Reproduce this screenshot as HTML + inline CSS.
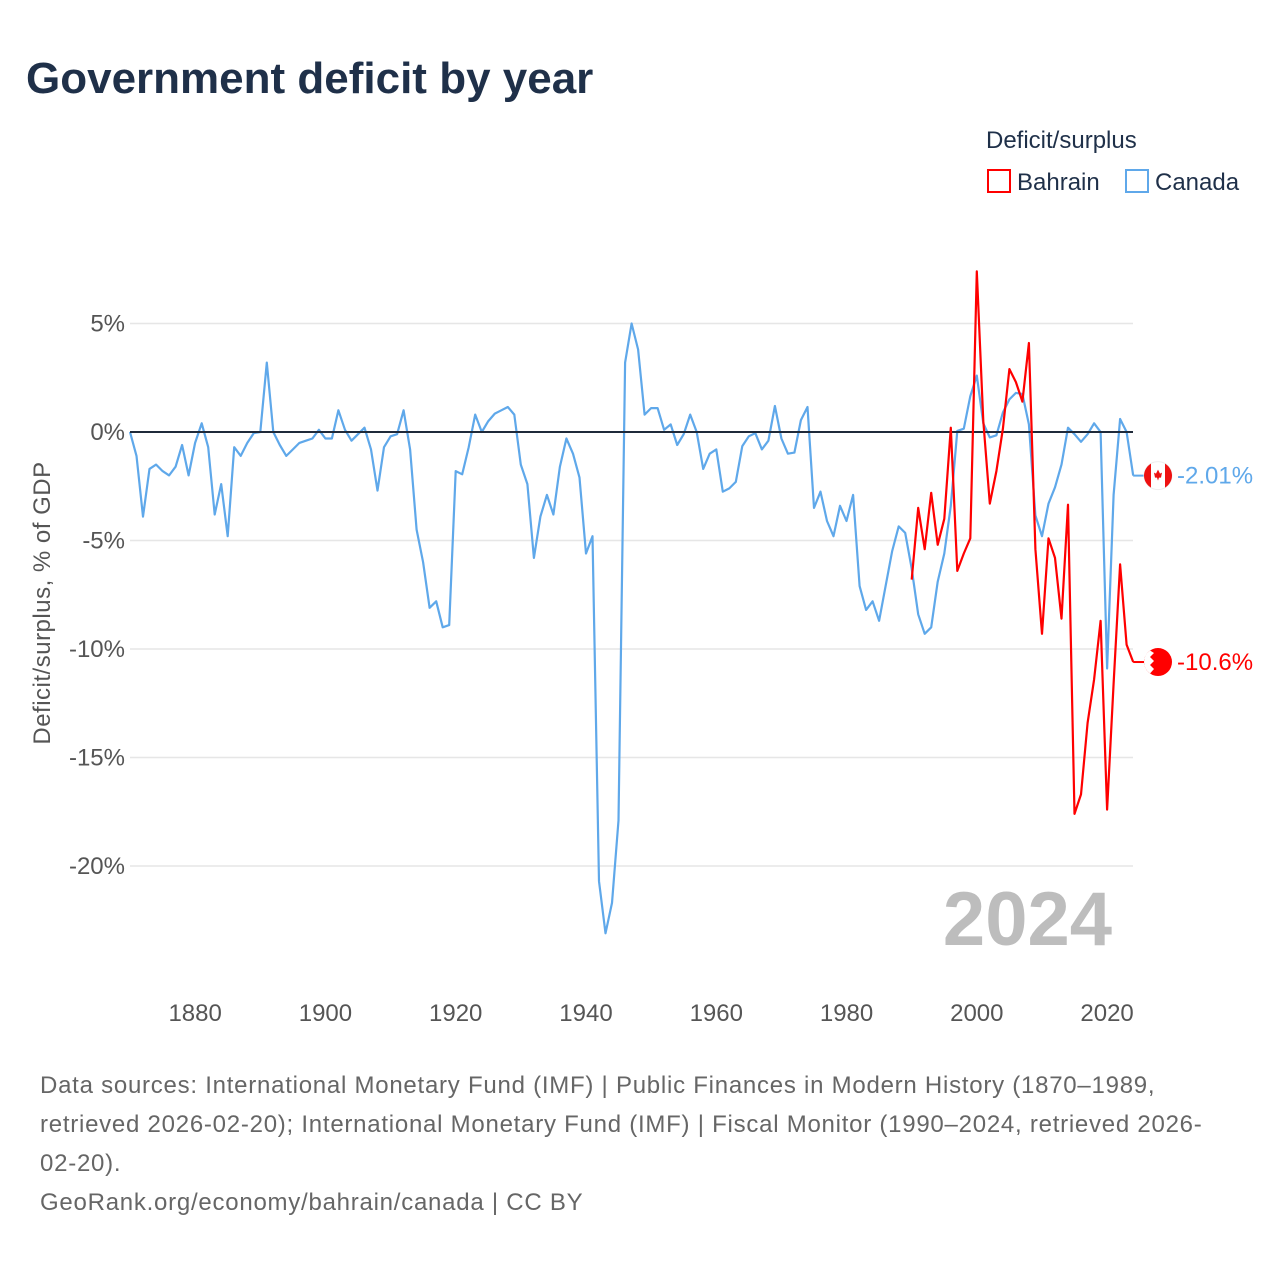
<!DOCTYPE html>
<html><head><meta charset="utf-8"><style>
body{margin:0;background:#fff;font-family:"Liberation Sans",sans-serif}
svg text{font-family:"Liberation Sans",sans-serif}
</style></head><body>
<svg id="chart" width="1280" height="1280" viewBox="0 0 1280 1280">
<text x="26" y="93" font-size="44" font-weight="bold" fill="#1f3049">Government deficit by year</text>
<text x="986" y="148" font-size="24" fill="#1f3049">Deficit/surplus</text>
<g><rect x="988" y="170" width="22" height="22" fill="none" stroke="#ff0000" stroke-width="2"/><text x="1017" y="190" font-size="24" fill="#1f3049">Bahrain</text></g>
<g><rect x="1126" y="170" width="22" height="22" fill="none" stroke="#5fa8ea" stroke-width="2"/><text x="1155" y="190" font-size="24" fill="#1f3049">Canada</text></g>
<g id="grid"></g>
<g id="yticks"></g>
<g id="xticks"></g>
<text x="50" y="603" font-size="24" letter-spacing="0.5" fill="#555" text-anchor="middle" transform="rotate(-90 50 603)">Deficit/surplus, % of GDP</text>
<text x="1112" y="945" font-size="76" font-weight="bold" fill="#bdbdbd" text-anchor="end">2024</text>
<g id="lines"></g>
<g id="ends"></g>
<g font-size="24" fill="#666" letter-spacing="0.75">
<text x="40" y="1093">Data sources: International Monetary Fund (IMF) | Public Finances in Modern History (1870–1989,</text>
<text x="40" y="1132">retrieved 2026-02-20); International Monetary Fund (IMF) | Fiscal Monitor (1990–2024, retrieved 2026-</text>
<text x="40" y="1171">02-20).</text>
<text x="40" y="1210">GeoRank.org/economy/bahrain/canada | CC BY</text>
</g>
</svg>
<script>
const canadaStart = 1870;
const canadaValues = [0,-1.1,-3.9,-1.7,-1.5,-1.8,-2.0,-1.6,-0.6,-2.0,
-0.5,0.4,-0.7,-3.8,-2.4,-4.8,-0.7,-1.1,-0.5,-0.05,
0,3.2,0,-0.6,-1.1,-0.8,-0.5,-0.4,-0.3,0.1,
-0.3,-0.3,1.0,0.1,-0.4,-0.1,0.2,-0.8,-2.7,-0.7,
-0.2,-0.1,1.0,-0.8,-4.5,-6.0,-8.1,-7.8,-9.0,-8.9,
-1.8,-1.95,-0.7,0.8,0,0.5,0.85,1.0,1.15,0.8,
-1.5,-2.4,-5.8,-3.9,-2.9,-3.8,-1.6,-0.3,-1.0,-2.1,
-5.6,-4.8,-20.7,-23.1,-21.7,-17.9,3.2,5.0,3.8,0.8,
1.1,1.1,0.1,0.35,-0.6,-0.1,0.8,0,-1.7,-1.0,
-0.8,-2.75,-2.6,-2.3,-0.65,-0.2,-0.05,-0.8,-0.4,1.2,
-0.3,-1.0,-0.95,0.55,1.15,-3.5,-2.75,-4.1,-4.8,-3.4,
-4.1,-2.9,-7.1,-8.2,-7.8,-8.7,-7.1,-5.5,-4.35,-4.65,
-6.3,-8.4,-9.3,-9.0,-6.9,-5.6,-3.4,0.05,0.15,1.65,
2.6,0.4,-0.25,-0.15,0.9,1.5,1.8,1.75,0.35,-3.85,
-4.8,-3.3,-2.55,-1.5,0.2,-0.1,-0.45,-0.1,0.4,0.0,
-10.9,-2.9,0.6,0.0,-2.01];
const bahrainStart = 1990;
const bahrainValues = [-6.8,-3.5,-5.4,-2.8,-5.2,-4.0,0.2,-6.4,-5.6,-4.9,
7.4,0.5,-3.3,-1.8,0.15,2.9,2.3,1.4,4.1,-5.4,
-9.3,-4.9,-5.8,-8.6,-3.35,-17.6,-16.7,-13.4,-11.4,-8.7,
-17.4,-11.6,-6.1,-9.8,-10.6];
const yTicks = [5,0,-5,-10,-15,-20];
const xTicks = [1880,1900,1920,1940,1960,1980,2000,2020];
const endLabels = ["-2.01%","-10.6%"];

const NS="http://www.w3.org/2000/svg";
const X0=130, X1=1133;
function xs(yr){return 130+(yr-1870)*6.514;}
function ys(v){return 432-v*21.7;}
function mk(tag,attrs,parent){const e=document.createElementNS(NS,tag);for(const k in attrs)e.setAttribute(k,attrs[k]);parent.appendChild(e);return e;}
const grid=document.getElementById('grid'), yt=document.getElementById('yticks'), xt=document.getElementById('xticks');
yTicks.forEach(v=>{
  if(v!==0){const l=mk('line',{x1:X0,x2:X1,y1:ys(v),y2:ys(v),stroke:'#e6e6e6','stroke-width':1.5},grid);
  
  }
  const t=mk('text',{x:125,y:ys(v)+8,'font-size':24,fill:'#555','text-anchor':'end'},yt);
  t.textContent=v+'%';
  
  
});
xTicks.forEach(yr=>{
  const t=mk('text',{x:xs(yr),y:1021,'font-size':24,fill:'#555','text-anchor':'middle'},xt);
  t.textContent=yr;
  
  
});
const lines=document.getElementById('lines');
function series(vals,start,color,name){
  const pts=vals.map((v,i)=>xs(start+i).toFixed(1)+','+ys(v).toFixed(1)).join(' ');
  const p=mk('polyline',{points:pts,fill:'none',stroke:color,'stroke-width':2.2,'stroke-linejoin':'round'},lines);
  
  
}
series(canadaValues,canadaStart,'#5fa8ea','canada-line');
const zl=mk('line',{x1:X0,x2:X1,y1:ys(0),y2:ys(0),stroke:'#1f2a3a','stroke-width':2},lines);


series(bahrainValues,bahrainStart,'#ff0000','bahrain-line');
const ends=document.getElementById('ends');
function endLabel(lastVal,lastYr,color,label,name,isCanada){
  const y=ys(lastVal), x=xs(lastYr);
  const g=mk('g',{},ends);
  
  
  mk('line',{x1:x,x2:1146,y1:y,y2:y,stroke:color,'stroke-width':2},g);
  const cx=1158;
  if(isCanada){
    mk('circle',{cx:cx,cy:y,r:14,fill:'#fff',stroke:'#eee'},g);
    mk('path',{d:`M${cx-14} ${y} A14 14 0 0 1 ${cx-7} ${y-12} L${cx-7} ${y+12} A14 14 0 0 1 ${cx-14} ${y}Z`,fill:'#e11'},g);
    mk('path',{d:`M${cx+14} ${y} A14 14 0 0 0 ${cx+7} ${y-12} L${cx+7} ${y+12} A14 14 0 0 0 ${cx+14} ${y}Z`,fill:'#e11'},g);
    mk('path',{d:`M${cx} ${y-6} L${cx+2} ${y-2} L${cx+4} ${y-3} L${cx+3} ${y+2} L${cx+1} ${y+2} L${cx} ${y+5} L${cx-1} ${y+2} L${cx-3} ${y+2} L${cx-4} ${y-3} L${cx-2} ${y-2}Z`,fill:'#e11'},g);
  } else {
    mk('circle',{cx:cx,cy:y,r:14,fill:'#f00'},g);
    mk('path',{d:`M${cx-14} ${y} A14 14 0 0 1 ${cx-8} ${y-11.5} L${cx-4} ${y-9} L${cx-8} ${y-5} L${cx-4} ${y-1} L${cx-8} ${y+3} L${cx-4} ${y+7} L${cx-8} ${y+11.5} A14 14 0 0 1 ${cx-14} ${y}Z`,fill:'#fff'},g);
  }
  const t=mk('text',{x:1177,y:y+8,'font-size':24,fill:color},g);
  t.textContent=label;
}
endLabel(canadaValues[canadaValues.length-1],canadaStart+canadaValues.length-1,'#5fa8ea',endLabels[0],'canada-end-label',true);
endLabel(bahrainValues[bahrainValues.length-1],bahrainStart+bahrainValues.length-1,'#ff0000',endLabels[1],'bahrain-end-label',false);
</script>
</body></html>
